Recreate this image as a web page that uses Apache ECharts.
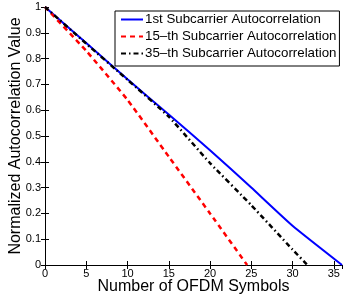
<!DOCTYPE html>
<html><head><meta charset="utf-8">
<script src="https://cdn.jsdelivr.net/npm/echarts@6/dist/echarts.min.js"></script>
<style>html,body{margin:0;padding:0;background:#fff}#c{width:343px;height:297px}</style>
</head><body><div id="c"></div>
<script>
var xBlue = [0, 5, 10, 15, 20, 25, 30, 36];
var yBlue = [1, 0.86, 0.72, 0.583, 0.445, 0.300, 0.152, 0];
var xRed = [0, 5, 10, 15, 20, 24.5];
var yRed = [1, 0.83, 0.64, 0.42, 0.20, 0];
var xBlack = [0, 5, 10, 15, 20, 25, 30, 31.8];
var yBlack = [1, 0.858, 0.718, 0.575, 0.395, 0.232, 0.06, 0];
var names = ['1st Subcarrier Autocorrelation', '15\u2013th Subcarrier Autocorrelation', '35\u2013th Subcarrier Autocorrelation'];
function pairs(xs, ys){ return xs.map(function(x,i){return [x, ys[i]];}); }
var F = 'Liberation Sans, Arial, sans-serif';
var chart = echarts.init(document.getElementById('c'), null, {renderer:'canvas'});
var axisCommon = {
  axisLine:{lineStyle:{color:'#000', width:1}},
  axisTick:{inside:true, length:4, lineStyle:{color:'#000'}},
  splitLine:{show:false}
};
chart.setOption({
  animation:false,
  backgroundColor:'#fff',
  grid:{left:45, right:1, top:7, bottom:32, containLabel:false, outerBoundsMode:'none'},
  legend:{
    data:names, orient:'vertical', left:115, top:11,
    itemWidth:22, itemHeight:13, itemGap:4, padding:[2,3,6,5],
    itemStyle:{opacity:0},
    backgroundColor:'#fff', borderColor:'#000', borderWidth:1, borderRadius:0,
    textStyle:{fontFamily:F, fontSize:13.3, color:'#000', padding:[0,0,0,-3]}
  },
  xAxis:[
    Object.assign({type:'value', min:0, max:36, interval:5, position:'bottom',
      name:'Number of OFDM Symbols', nameLocation:'middle', nameGap:14, nameMoveOverlap:false,
      nameTextStyle:{fontFamily:F, fontSize:16, color:'#000'},
      axisLabel:{fontFamily:F, fontSize:11, color:'#000', margin:3,
        showMaxLabel:false}}, axisCommon),
    Object.assign({type:'value', min:0, max:36, interval:5, position:'top',
      axisLabel:{show:false}}, axisCommon)
  ],
  yAxis:[
    Object.assign({type:'value', min:0, max:1, interval:0.1, position:'left',
      name:'Normalized Autocorrelation Value', nameLocation:'middle', nameGap:21, nameMoveOverlap:false,
      nameTextStyle:{fontFamily:F, fontSize:16, color:'#000'},
      axisLabel:{fontFamily:F, fontSize:11, color:'#000', margin:4}}, axisCommon),
    Object.assign({type:'value', min:0, max:1, interval:0.1, position:'right',
      axisLabel:{show:false}}, axisCommon)
  ],
  series:[
    {name:names[0], type:'line', data:pairs(xBlue,yBlue), symbol:'none', smooth:0.15,
      lineStyle:{color:'#0000ff', width:2}, itemStyle:{color:'#0000ff'}},
    {name:names[1], type:'line', data:pairs(xRed,yRed), symbol:'none', smooth:0.15,
      lineStyle:{color:'#ff0000', width:2.5, type:[5,4]}, itemStyle:{color:'#ff0000'}},
    {name:names[2], type:'line', data:pairs(xBlack,yBlack), symbol:'none', smooth:0.15,
      lineStyle:{color:'#000', width:2.5, type:[5,3,1.5,3]}, itemStyle:{color:'#000'}}
  ]
});
</script></body></html>
